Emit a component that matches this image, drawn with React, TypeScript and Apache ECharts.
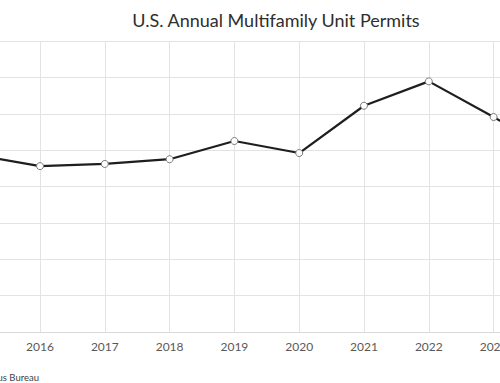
import React, { useEffect, useRef } from "react";
import * as echarts from "echarts";

const years = ["2015", "2016", "2017", "2018", "2019", "2020", "2021", "2022", "2023", "2024"];
const permits = [487000, 456000, 462000, 475000, 525000, 492000, 622000, 689000, 591000, 490000];
const titleText = "U.S. Annual Multifamily Unit Permits";
const sourceText = "Source: U.S. Census Bureau";

const OFFSET = 100;
const W = 700;
const H = 383;

export default function App() {
  const ref = useRef<HTMLDivElement>(null);
  useEffect(() => {
    document.body.style.margin = "0";
    document.body.style.overflow = "hidden";
    const chart = echarts.init(ref.current!, null, { renderer: "svg" });
    chart.setOption({
      animation: false,
      backgroundColor: "#ffffff",
      grid: { left: 75.2, right: 41.6, top: 41, bottom: 51, containLabel: false },
      xAxis: {
        type: "category",
        data: years,
        boundaryGap: false,
        axisLine: { show: true, lineStyle: { color: "#d9d9d9", width: 1 } },
        axisTick: { show: false },
        axisLabel: { color: "#595959", fontSize: 12, fontFamily: "Lato", margin: 8 },
        splitLine: { show: true, lineStyle: { color: "#e3e3e3", width: 1 } },
      },
      yAxis: {
        type: "value",
        min: 0,
        max: 800000,
        interval: 100000,
        axisLine: { show: false },
        axisTick: { show: false },
        axisLabel: { show: false },
        splitLine: { show: true, lineStyle: { color: "#e3e3e3", width: 1 } },
      },
      graphic: [
        {
          type: "text",
          x: 276 + OFFSET,
          y: 20,
          style: {
            text: titleText,
            fill: "#2e2e2e",
            fontSize: 18,
            fontFamily: "Lato",
            align: "center",
            verticalAlign: "middle",
          },
        },
        {
          type: "text",
          x: 39 + OFFSET,
          y: 377,
          style: {
            text: sourceText,
            fill: "#404040",
            fontSize: 9.5,
            fontFamily: "Lato",
            align: "right",
            verticalAlign: "middle",
          },
        },
      ],
      series: [
        {
          type: "line",
          data: permits,
          symbol: "circle",
          symbolSize: 7,
          lineStyle: { color: "#1e1e1e", width: 2.2 },
          itemStyle: { color: "#ffffff", borderColor: "#7a7a7a", borderWidth: 1 },
        },
      ],
    });
    return () => chart.dispose();
  }, []);
  return (
    <div style={{ position: "fixed", left: 0, top: 0, width: 500, height: H, overflow: "hidden", background: "#fff" }}>
      <div ref={ref} style={{ position: "absolute", left: -OFFSET, top: 0, width: W, height: H }} />
    </div>
  );
}
